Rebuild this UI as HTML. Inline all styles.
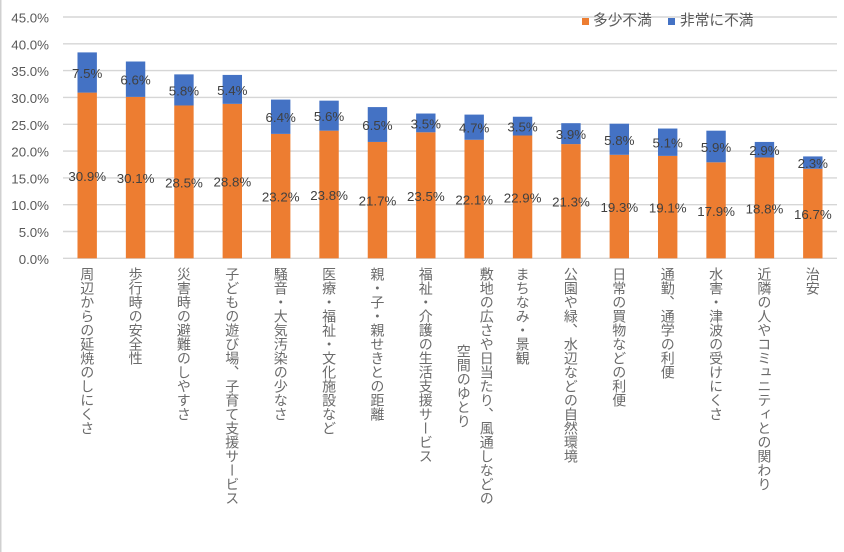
<!DOCTYPE html>
<html><head><meta charset="utf-8">
<style>
html,body{margin:0;padding:0;background:#fff;}
#c{position:relative;width:844px;height:552px;overflow:hidden;background:#fff;font-family:"Liberation Sans","Noto Sans CJK JP",sans-serif;}
svg{position:absolute;left:0;top:0;}
.lab{position:absolute;top:267px;writing-mode:vertical-rl;font-family:"Liberation Sans","Noto Sans CJK JP",sans-serif;font-size:14px;line-height:14px;color:#6b6b6b;white-space:nowrap;}
</style></head><body>
<div id="c">
<svg width="844" height="552" viewBox="0 0 844 552" xmlns="http://www.w3.org/2000/svg">
<rect x="0" y="0" width="1.5" height="552" fill="#d0d0d0"/>
<g stroke="#d6d6d6" stroke-width="1.4">
<line x1="63" x2="837" y1="17" y2="17"/>
<line x1="63" x2="837" y1="43.8" y2="43.8"/>
<line x1="63" x2="837" y1="70.6" y2="70.6"/>
<line x1="63" x2="837" y1="97.4" y2="97.4"/>
<line x1="63" x2="837" y1="124.3" y2="124.3"/>
<line x1="63" x2="837" y1="151.1" y2="151.1"/>
<line x1="63" x2="837" y1="177.9" y2="177.9"/>
<line x1="63" x2="837" y1="204.7" y2="204.7"/>
<line x1="63" x2="837" y1="231.5" y2="231.5"/>
<line x1="63" x2="837" y1="258.3" y2="258.3"/>
</g>
<g font-family="Liberation Sans, sans-serif" font-size="13.3" fill="#595959" text-anchor="end" dominant-baseline="central">
<text x="49" y="18">45.0%</text>
<text x="49" y="44.8">40.0%</text>
<text x="49" y="71.6">35.0%</text>
<text x="49" y="98.4">30.0%</text>
<text x="49" y="125.3">25.0%</text>
<text x="49" y="152.1">20.0%</text>
<text x="49" y="178.9">15.0%</text>
<text x="49" y="205.7">10.0%</text>
<text x="49" y="232.5">5.0%</text>
<text x="49" y="259.3">0.0%</text>
</g>
<g id="bars"></g>
<g id="dl" font-family="Liberation Sans, sans-serif" font-size="13.3" fill="#404040" text-anchor="middle" dominant-baseline="central"></g>
<rect x="582" y="18" width="7" height="7" fill="#ED7D31"/>
<rect x="668" y="18" width="7" height="7" fill="#4472C4"/>
<g font-family="Liberation Sans, Noto Sans CJK JP, sans-serif" font-size="14.7" fill="#595959" dominant-baseline="central">
<text x="593" y="21">多少不満</text>
<text x="680" y="21">非常に不満</text>
</g>
</svg>
<div id="labels"></div>
</div>
<script>
var d=[[30.9,7.5],[30.1,6.6],[28.5,5.8],[28.8,5.4],[23.2,6.4],[23.8,5.6],[21.7,6.5],[23.5,3.5],[22.1,4.7],[22.9,3.5],[21.3,3.9],[19.3,5.8],[19.1,5.1],[17.9,5.9],[18.8,2.9],[16.7,2.3]];
var L=["周辺からの延焼のしにくさ","歩行時の安全性","災害時の避難のしやすさ","子どもの遊び場、子育て支援サービス","騒音・大気汚染の少なさ","医療・福祉・文化施設など","親・子・親せきとの距離","福祉・介護の生活支援サービス",null,"まちなみ・景観","公園や緑、水辺などの自然環境","日常の買物などの利便","通勤、通学の利便","水害・津波の受けにくさ","近隣の人やコミュニティとの関わり","治安"];
var NS="http://www.w3.org/2000/svg";
var y0=258.3,s=5.362,bw=19.4;
var bars=document.getElementById("bars"),dl=document.getElementById("dl"),labs=document.getElementById("labels");
function mk(t,a,p){var e=document.createElementNS(NS,t);for(var k in a)e.setAttribute(k,a[k]);p.appendChild(e);return e;}
for(var i=0;i<16;i++){
 var cx=63+48.375*(i+0.5);
 var o=d[i][0],b=d[i][1];
 var yo=y0-o*s,yb=yo-b*s;
 mk("rect",{x:(cx-bw/2).toFixed(2),y:yo.toFixed(2),width:bw,height:(o*s).toFixed(2),fill:"#ED7D31"},bars);
 mk("rect",{x:(cx-bw/2).toFixed(2),y:yb.toFixed(2),width:bw,height:(b*s).toFixed(2),fill:"#4472C4"},bars);
 var t1=mk("text",{x:cx.toFixed(2),y:((y0+yo)/2+1).toFixed(2)},dl);t1.textContent=o.toFixed(1)+"%";
 var t2=mk("text",{x:cx.toFixed(2),y:((yo+yb)/2+1).toFixed(2)},dl);t2.textContent=b.toFixed(1)+"%";
 var div=document.createElement("div");div.className="lab";
 if(L[i]){div.textContent=L[i];div.style.left=(cx-7).toFixed(1)+"px";}
 else{div.innerHTML="敷地の広さや日当たり、風通しなどの<br>空間のゆとり";div.style.lineHeight="23px";div.style.height="238px";div.style.textAlign="center";div.style.left=(cx-23+0.5).toFixed(1)+"px";}
 labs.appendChild(div);
}
</script>
</body></html>
